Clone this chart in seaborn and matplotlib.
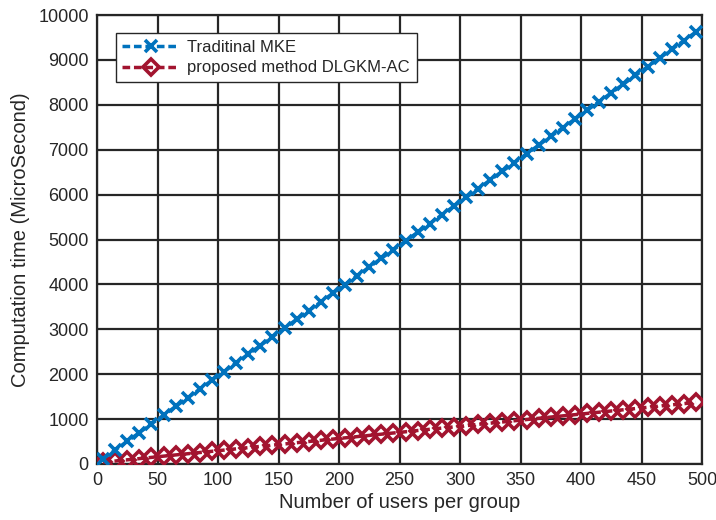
import matplotlib
matplotlib.use("Agg")
import matplotlib.pyplot as plt
import seaborn as sns
import pandas as pd
import numpy as np

users = [5, 15, 25, 35, 45, 55, 65, 75, 85, 95,
         105, 115, 125, 135, 145, 155, 165, 175, 185, 195,
         205, 215, 225, 235, 245, 255, 265, 275, 285, 295,
         305, 315, 325, 335, 345, 355, 365, 375, 385, 395,
         405, 415, 425, 435, 445, 455, 465, 475, 485, 495]

traditional_mke = [117, 311, 505, 699, 893, 1087, 1281, 1475, 1669, 1863,
                   2057, 2251, 2445, 2639, 2833, 3027, 3221, 3415, 3609, 3803,
                   3997, 4191, 4385, 4579, 4773, 4967, 5161, 5355, 5549, 5743,
                   5937, 6131, 6325, 6519, 6713, 6907, 7101, 7295, 7489, 7683,
                   7877, 8071, 8265, 8459, 8653, 8847, 9041, 9235, 9429, 9623]

dlgkm_ac = [40, 66, 93, 120, 147, 175, 202, 229, 256, 283,
            310, 338, 365, 392, 419, 446, 474, 501, 528, 555,
            582, 610, 637, 664, 691, 718, 746, 773, 800, 827,
            854, 882, 909, 936, 963, 990, 1018, 1045, 1072, 1099,
            1126, 1154, 1181, 1208, 1235, 1262, 1290, 1317, 1344, 1371]

labels = ["Traditinal MKE", "proposed method DLGKM-AC"]
xticks = list(range(0, 501, 50))
yticks = list(range(0, 10001, 1000))

sns.set_theme(style="white")
plt.rcParams['font.family'] = ['Liberation Sans', 'DejaVu Sans']

fig = plt.figure(figsize=(7.16, 5.2), dpi=100)
ax = fig.add_axes([97/716, 1-464/520, (702-97)/716, (464-15)/520])

blue = "#0072BD"
red = "#A2142F"
df1 = pd.DataFrame({"x": users, "y": traditional_mke})
df2 = pd.DataFrame({"x": users, "y": dlgkm_ac})

sns.lineplot(data=df1, x="x", y="y", ax=ax, color=blue, linestyle=(0, (2.2, 1.1)),
             linewidth=2.5, marker="x", markersize=9, markeredgewidth=2.6,
             markeredgecolor=blue, markerfacecolor=blue,
             label=labels[0], zorder=4)
sns.lineplot(data=df2, x="x", y="y", ax=ax, color=red, linestyle=(0, (2.2, 1.1)),
             linewidth=2.5, marker="D", markersize=8.5, markeredgewidth=2.6,
             markerfacecolor="none", markeredgecolor=red,
             label=labels[1], zorder=3)

ax.set_xlim(0, 500)
ax.set_ylim(0, 10000)
ax.set_xticks(xticks)
ax.set_yticks(yticks)
ax.tick_params(labelsize=13, colors="#262626", direction="in", length=4, width=1.5, pad=6)
ax.grid(True, color="#262626", linewidth=1.6)
ax.set_axisbelow(True)
for sp in ax.spines.values():
    sp.set_color("#262626")
    sp.set_linewidth(1.6)

ax.set_xlabel("Number of users per group", fontsize=14.5, color="#262626", labelpad=3)
ax.set_ylabel("Computation time (MicroSecond)", fontsize=14.5, color="#262626", labelpad=6)

leg = ax.legend(loc="upper left", bbox_to_anchor=(0.031, 0.96), borderaxespad=0,
                fontsize=12, frameon=True, fancybox=False, edgecolor="#262626",
                framealpha=1, handlelength=3.4, handletextpad=0.5,
                borderpad=0.4, labelspacing=0.35)
leg.get_frame().set_linewidth(1.0)

fig.savefig("out.png", dpi=100)
